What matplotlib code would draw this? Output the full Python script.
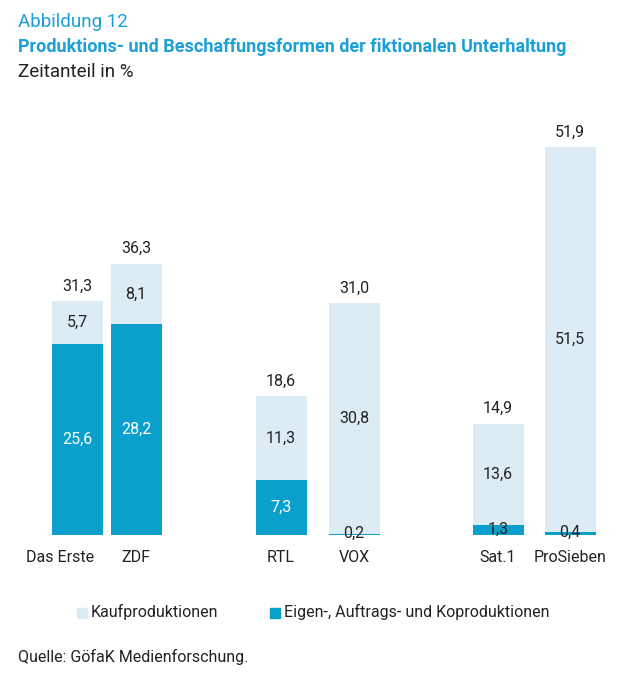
import matplotlib
matplotlib.use("Agg")
import matplotlib.pyplot as plt
from matplotlib.patches import Rectangle

cats = ["Das Erste", "ZDF", "RTL", "VOX", "Sat.1", "ProSieben"]
eigen = [25.6, 28.2, 7.3, 0.2, 1.3, 0.4]
kauf = [5.7, 8.1, 11.3, 30.8, 13.6, 51.5]
total = [31.3, 36.3, 18.6, 31.0, 14.9, 51.9]

fam = ["Liberation Sans Narrow", "Roboto", "DejaVu Sans"]
plt.rcParams["font.family"] = fam
dark = "#0b9fcb"
light = "#dcebf4"
blue = "#1a9fd6"

fig = plt.figure(figsize=(6.24, 6.8), dpi=100)
ax = fig.add_axes([0, 1 - 535 / 680, 1, 388 / 680])
ax.set_xlim(0, 624)
ax.set_ylim(0, 51.9)
ax.axis("off")
pos = [77, 136, 281, 354, 498, 570]
w = 51
ax.bar(pos, eigen, w, color=dark)
ax.bar(pos, kauf, w, bottom=eigen, color=light)
fmt = lambda v: f"{v:.1f}".replace(".", ",")
for p, e, k, t in zip(pos, eigen, kauf, total):
    ax.text(p, t + 2.0, fmt(t), ha="center", va="center", fontsize=11.5, color="#222")
    ax.text(p, e + k / 2, fmt(k), ha="center", va="center", fontsize=11.5, color="#222")
    if e > 3:
        ax.text(p, e / 2, fmt(e), ha="center", va="center", fontsize=11.5, color="white")
    else:
        ax.text(p, e / 2 + 0.1, fmt(e), ha="center", va="center", fontsize=11.5, color="#222")
lab_x = [60, 136, 281, 354, 498, 570]
for p, c in zip(lab_x, cats):
    fig.text(p / 624, 1 - 557 / 680, c, ha="center", va="center", fontsize=11.5, color="#222")

fig.text(18 / 624, 1 - 22 / 680, "Abbildung 12", fontsize=13.5, color=blue, va="center")
fig.text(18 / 624, 1 - 47 / 680, "Produktions- und Beschaffungsformen der fiktionalen Unterhaltung",
         fontsize=13, color=blue, fontweight="bold", va="center")
fig.text(18 / 624, 1 - 72 / 680, "Zeitanteil in %", fontsize=13.5, color="#222", va="center")

fig.patches.append(Rectangle((77 / 624, 1 - 618 / 680), 10 / 624, 10 / 680,
                             transform=fig.transFigure, color=light))
fig.text(91 / 624, 1 - 612 / 680, "Kaufproduktionen", fontsize=11.5, color="#222", va="center")
fig.patches.append(Rectangle((270 / 624, 1 - 618 / 680), 10 / 624, 10 / 680,
                             transform=fig.transFigure, color=dark))
fig.text(284 / 624, 1 - 612 / 680, "Eigen-, Auftrags- und Koproduktionen", fontsize=11.5,
         color="#222", va="center")
fig.text(18 / 624, 1 - 657 / 680, "Quelle: GöfaK Medienforschung.", fontsize=11.5,
         color="#222", va="center")
fig.savefig("out.png", dpi=100)
